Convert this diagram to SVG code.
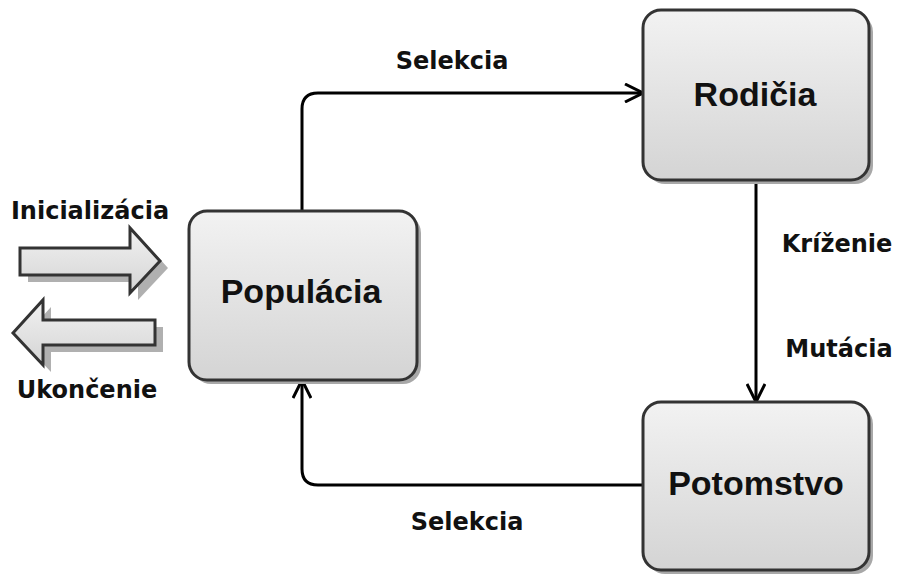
<svg xmlns="http://www.w3.org/2000/svg" width="897" height="576" viewBox="0 0 897 576">
  <defs>
    <linearGradient id="boxFill" x1="0" y1="0" x2="0" y2="1">
      <stop offset="0" stop-color="#f2f2f2"/>
      <stop offset="1" stop-color="#d4d4d4"/>
    </linearGradient>
    <marker id="openArrow" viewBox="0 0 20 20" refX="19" refY="10" markerWidth="20" markerHeight="20" markerUnits="userSpaceOnUse" orient="auto">
      <path d="M1,1 L19,10 L1,19" fill="none" stroke="#000" stroke-width="3" stroke-linejoin="miter"/>
    </marker>
  </defs>
  <style>
    .box { fill: url(#boxFill); stroke: #333; stroke-width: 3; }
    .shadow { fill: #a8a8a8; }
    .arrow-shadow { fill: #b0b0b0; }
    .block { fill: url(#boxFill); stroke: #333; stroke-width: 3; stroke-linejoin: miter; }
    .node-label { font-family: "Liberation Sans", Arial, sans-serif; font-weight: bold; font-size: 34px; fill: #111; text-anchor: middle; }
    .edge-label { font-family: "DejaVu Sans", Verdana, sans-serif; font-weight: bold; font-size: 24px; fill: #111; text-anchor: middle; }
    .link { fill: none; stroke: #000; stroke-width: 3; marker-end: url(#openArrow); }
  </style>

  <rect width="897" height="576" fill="#fff"/>

  <!-- connectors -->
  <g id="connectors">
    <path class="link" d="M302,211 V109 Q302,93 318,93 H643"/>
    <path class="link" d="M756,180 V402"/>
    <path class="link" d="M643,485 H318 Q302,485 302,469 V380"/>
  </g>

  <!-- edge labels -->
  <g id="edge-labels">
    <text class="edge-label" x="452" y="69">Selekcia</text>
    <text class="edge-label" x="467" y="530">Selekcia</text>
    <text class="edge-label" x="837" y="252">Kríženie</text>
    <text class="edge-label" x="839" y="357">Mutácia</text>
  </g>

  <!-- input / output block arrows -->
  <g id="init">
    <polygon class="arrow-shadow" points="28,255 138,255 138,235 168,268 138,300 138,282 28,282"/>
    <polygon class="block" points="20,248 130,248 130,228 160,261 130,293 130,275 20,275"/>
    <text class="edge-label" x="90" y="219">Inicializácia</text>
  </g>
  <g id="end">
    <polygon class="arrow-shadow" points="163,327 51,327 51,307 21,340 51,372 51,352 163,352"/>
    <polygon class="block" points="155,320 43,320 43,300 13,333 43,365 43,345 155,345"/>
    <text class="edge-label" x="87" y="398">Ukončenie</text>
  </g>

  <!-- nodes -->
  <g id="populacia">
    <rect class="shadow" x="193" y="215" width="228" height="169" rx="18"/>
    <rect class="box" x="189" y="211" width="228" height="169" rx="18"/>
    <text class="node-label" x="301" y="303">Populácia</text>
  </g>
  <g id="rodicia">
    <rect class="shadow" x="647" y="14" width="226" height="170" rx="18"/>
    <rect class="box" x="643" y="10" width="226" height="170" rx="18"/>
    <text class="node-label" x="755" y="106">Rodičia</text>
  </g>
  <g id="potomstvo">
    <rect class="shadow" x="647" y="406" width="226" height="168" rx="18"/>
    <rect class="box" x="643" y="402" width="226" height="168" rx="18"/>
    <text class="node-label" x="756" y="495">Potomstvo</text>
  </g>
</svg>
